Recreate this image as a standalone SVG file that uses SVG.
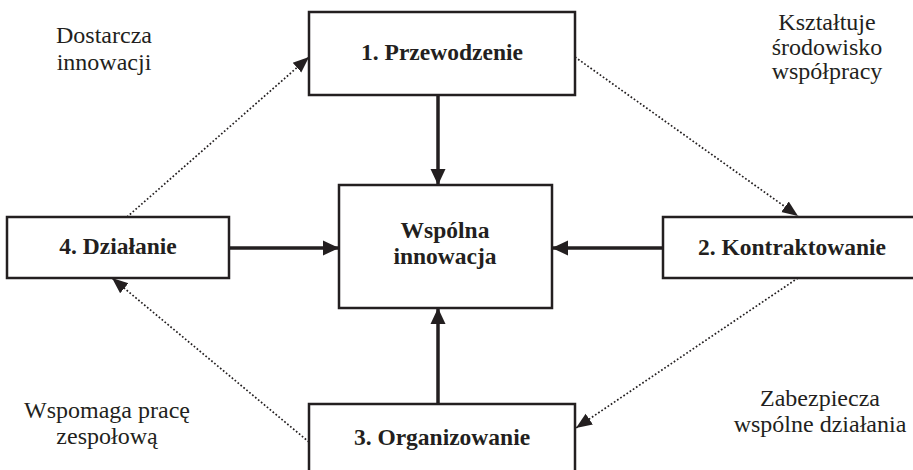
<svg xmlns="http://www.w3.org/2000/svg" width="913" height="470" viewBox="0 0 913 470">
<defs>
<style>
.box{fill:#fff;stroke:#231f20;stroke-width:2.5}
text{font-family:"Liberation Serif","Times New Roman",serif;fill:#231f20;text-anchor:middle}
.b{font-weight:bold;font-size:23.5px}
.n{font-size:24px}
.solid{stroke:#231f20;stroke-width:3.5;fill:none}
.dot{stroke:#231f20;stroke-width:1.7;stroke-dasharray:1.7 2.1;fill:none}
</style>
<marker id="ah" markerUnits="userSpaceOnUse" markerWidth="16" markerHeight="16" viewBox="0 0 16 16" refX="16" refY="8" orient="auto">
<path d="M0,0.5 L16,8 L0,15.5 Z" fill="#231f20"/>
</marker>
<marker id="ad" markerUnits="userSpaceOnUse" markerWidth="16" markerHeight="16" viewBox="0 0 16 16" refX="16" refY="8" orient="auto">
<path d="M0,1.5 L16,8 L0,14.5 Z" fill="#231f20"/>
</marker>
</defs>
<rect width="913" height="470" fill="#fff"/>
<g id="connectors">
<line class="solid" x1="438" y1="95" x2="438" y2="185" marker-end="url(#ah)"/>
<line class="solid" x1="438" y1="404" x2="438" y2="308" marker-end="url(#ah)"/>
<line class="solid" x1="229" y1="248" x2="339" y2="248" marker-end="url(#ah)"/>
<line class="solid" x1="663" y1="248" x2="552" y2="248" marker-end="url(#ah)"/>
<line class="dot" x1="127" y1="217" x2="309" y2="57" marker-end="url(#ad)"/>
<line class="dot" x1="575" y1="57" x2="798" y2="216" marker-end="url(#ad)"/>
<line class="dot" x1="798" y1="278" x2="576" y2="428" marker-end="url(#ad)"/>
<line class="dot" x1="309" y1="442" x2="112" y2="278" marker-end="url(#ad)"/>
</g>
<g id="node1">
<rect class="box" x="309" y="12" width="266" height="83"/>
<text class="b" x="442" y="60">1. Przewodzenie</text>
</g>
<g id="node-center">
<rect class="box" x="339" y="185" width="213" height="123"/>
<text class="b" x="445" y="238">Wspólna</text>
<text class="b" x="445" y="264">innowacja</text>
</g>
<g id="node2">
<rect class="box" x="663" y="217" width="262" height="61"/>
<text class="b" x="792" y="255">2. Kontraktowanie</text>
</g>
<g id="node3">
<rect class="box" x="309" y="404" width="266" height="80"/>
<text class="b" x="442" y="445">3. Organizowanie</text>
</g>
<g id="node4">
<rect class="box" x="7" y="217" width="222" height="61"/>
<text class="b" x="118" y="254">4. Działanie</text>
</g>
<g id="labels">
<text class="n" x="104" y="43">Dostarcza</text>
<text class="n" x="104" y="70">innowacji</text>
<text class="n" x="827" y="30">Kształtuje</text>
<text class="n" x="827" y="55">środowisko</text>
<text class="n" x="827" y="79">współpracy</text>
<text class="n" x="107" y="418">Wspomaga pracę</text>
<text class="n" x="107" y="444">zespołową</text>
<text class="n" x="820" y="406">Zabezpiecza</text>
<text class="n" x="820" y="432">wspólne działania</text>
</g>
</svg>
